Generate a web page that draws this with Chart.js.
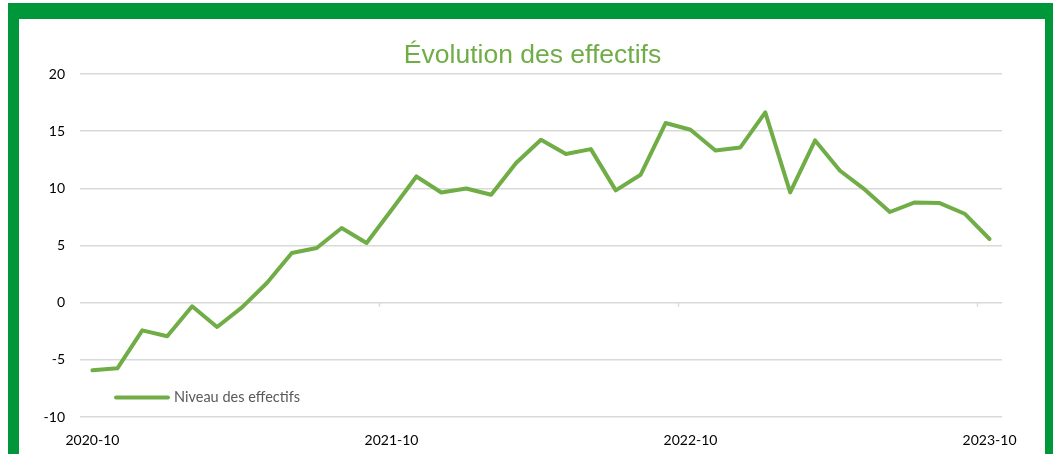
<!DOCTYPE html>
<html>
<head>
<meta charset="utf-8">
<script src="https://cdn.jsdelivr.net/npm/chart.js@4.4.1/dist/chart.umd.min.js"></script>
<style>
  html, body { margin: 0; padding: 0; background: #fff; overflow: hidden; width: 1053px; height: 454px; }
  #frame {
    position: absolute; left: 8px; top: 3px; width: 1026px; height: 600px;
    border-left: 11px solid #00963a; border-top: 16px solid #00963a; border-right: 12px solid #00963a;
  }
  #chart { position: absolute; left: 0; top: 0; }
</style>
</head>
<body>
<div id="frame"></div>
<canvas id="chart" width="1053" height="454"></canvas>
<script>
const months = [
  '2020-10', '2020-11', '2020-12', '2021-01', '2021-02', '2021-03', '2021-04', '2021-05', '2021-06',
  '2021-07', '2021-08', '2021-09', '2021-10', '2021-11', '2021-12', '2022-01', '2022-02', '2022-03',
  '2022-04', '2022-05', '2022-06', '2022-07', '2022-08', '2022-09', '2022-10', '2022-11', '2022-12',
  '2023-01', '2023-02', '2023-03', '2023-04', '2023-05', '2023-06', '2023-07', '2023-08', '2023-09',
  '2023-10',
]
const niveauEffectifs = [
  -5.92, -5.74, -2.42, -2.94, -0.32, -2.13, -0.41, 1.72, 4.34,
  4.78, 6.53, 5.22, 8.1, 11.04, 9.64, 9.99, 9.44, 12.21,
  14.25, 13.0, 13.43, 9.82, 11.19, 15.71, 15.12, 13.31, 13.58,
  16.64, 9.64, 14.19, 11.54, 9.88, 7.93, 8.77, 8.71, 7.78,
  5.57,
]
const shownLabels = ['2020-10', '2021-10', '2022-10', '2023-10']
const chartTitle = 'Évolution des effectifs'

const lineColor = '#70ad47'
const gridColor = '#d9d9d9'

// title, centred on the whole chart box rather than on the plot
const chartTitlePlugin = {
  id: 'chartTitlePlugin',
  afterDraw(chart) {
    const ctx = chart.ctx
    ctx.save()
    ctx.fillStyle = lineColor
    ctx.font = '26.5px "Liberation Sans"'
    ctx.textAlign = 'center'
    ctx.textBaseline = 'alphabetic'
    ctx.fillText(chartTitle, chart.width / 2 + 6, 63)
    ctx.restore()
  },
}

// small tick marks on the zero line, between categories, under each shown label
const zeroTicks = {
  id: 'zeroTicks',
  afterDatasetsDraw(chart) {
    const x = chart.scales.x
    const y = chart.scales.y
    const ctx = chart.ctx
    const half = (x.getPixelForValue(1) - x.getPixelForValue(0)) / 2
    const y0 = y.getPixelForValue(0)
    ctx.save()
    ctx.strokeStyle = gridColor
    ctx.lineWidth = 1.5
    months.forEach((m, i) => {
      if (i === 0 || !shownLabels.includes(m)) return
      const px = Math.round(x.getPixelForValue(i) - half) + 0.5
      ctx.beginPath()
      ctx.moveTo(px, y0)
      ctx.lineTo(px, y0 + 4)
      ctx.stroke()
    })
    ctx.restore()
  },
}

// legend drawn inside the plot, bottom left
const innerLegend = {
  id: 'innerLegend',
  afterDraw(chart) {
    const ctx = chart.ctx
    const area = chart.chartArea
    const ds = chart.data.datasets[0]
    const ly = area.bottom - 19.5
    const lx = area.left + 36
    ctx.save()
    ctx.strokeStyle = ds.borderColor
    ctx.lineWidth = 4
    ctx.lineCap = 'round'
    ctx.beginPath()
    ctx.moveTo(lx, ly)
    ctx.lineTo(lx + 52, ly)
    ctx.stroke()
    ctx.fillStyle = '#595959'
    ctx.font = '14.5px Lato'
    ctx.textBaseline = 'middle'
    ctx.fillText(ds.label, lx + 58, ly)
    ctx.restore()
  },
}

new Chart(document.getElementById('chart'), {
  type: 'line',
  data: {
    labels: months,
    datasets: [
      {
        label: 'Niveau des effectifs',
        data: niveauEffectifs,
        borderColor: lineColor,
        backgroundColor: lineColor,
        borderWidth: 4,
        pointRadius: 0,
        tension: 0,
        borderCapStyle: 'round',
        borderJoinStyle: 'round',
      },
    ],
  },
  options: {
    responsive: false,
    animation: false,
    layout: { padding: { left: 20, right: 51, top: 74, bottom: 0 } },
    plugins: {
      legend: { display: false },
      tooltip: { enabled: false },
      title: { display: false },
    },
    scales: {
      x: {
        offset: true,
        grid: { display: false },
        border: { display: false },
        afterFit: (scale) => { scale.height = 37 },
        ticks: {
          autoSkip: false,
          maxRotation: 0,
          padding: 7,
          color: '#000',
          font: { family: 'Lato', size: 14 },
          callback: (value, index) => (shownLabels.includes(months[index]) ? months[index] : ''),
        },
      },
      y: {
        min: -10,
        max: 20,
        afterFit: (scale) => { scale.width = 60 },
        grid: { color: gridColor, lineWidth: 1.5, drawTicks: false },
        border: { display: false },
        ticks: {
          stepSize: 5,
          padding: 15,
          color: '#000',
          font: { family: 'Lato', size: 14 },
        },
      },
    },
  },
  plugins: [zeroTicks, innerLegend, chartTitlePlugin],
})
</script>
</body>
</html>
